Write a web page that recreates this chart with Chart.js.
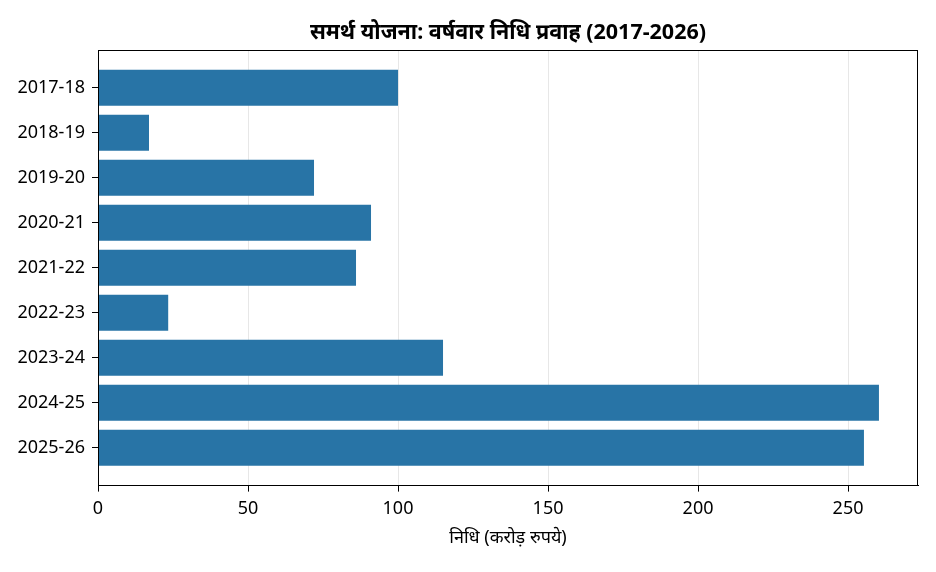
<!DOCTYPE html>
<html>
<head>
<meta charset="utf-8">
<script src="https://cdn.jsdelivr.net/npm/chart.js@4.4.1/dist/chart.umd.min.js"></script>
<style>
  html, body { margin: 0; padding: 0; background: #fff; }
  #wrap { width: 936px; height: 572px; }
</style>
</head>
<body>
<div id="wrap"><canvas id="c" width="936" height="572"></canvas></div>
<script>
const categories = ["2017-18", "2018-19", "2019-20", "2020-21", "2021-22", "2022-23", "2023-24", "2024-25", "2025-26"];
const funds = [100, 17, 72, 91, 86, 23.4, 115, 260.3, 255.3];
const xTicks = [0, 50, 100, 150, 200, 250];
const titleText = "समर्थ योजना: वर्षवार निधि प्रवाह (2017-2026)";
const xLabel = "निधि (करोड़ रुपये)";

const FONT = "'Noto Sans', 'DejaVu Sans', sans-serif";
const xMax = Math.max(...funds) * 1.05;
const yPad = (categories.length - 1 + 0.8) * 0.05 + 0.4;

const framePlugin = {
  id: 'frame',
  afterDraw(chart) {
    const a = chart.chartArea, ctx = chart.ctx;
    ctx.save();
    ctx.strokeStyle = '#000';
    ctx.lineWidth = 1;
    ctx.strokeRect(Math.round(a.left) + 0.5, Math.round(a.top) + 0.5,
                   Math.round(a.right - a.left) - 1, Math.round(a.bottom - a.top) - 1);
    // title centred over the plot area
    ctx.fillStyle = '#000';
    ctx.font = "bold 21.5px " + FONT;
    ctx.textAlign = 'center';
    ctx.textBaseline = 'middle';
    ctx.fillText(titleText, (a.left + a.right) / 2, 33);
    ctx.restore();
  }
};

new Chart(document.getElementById('c'), {
  type: 'bar',
  data: {
    datasets: [{
      data: funds.map((v, i) => ({ x: v, y: i })),
      backgroundColor: '#2874A6',
      borderWidth: 0,
      barPercentage: 0.8,
      categoryPercentage: 1.0
    }]
  },
  options: {
    indexAxis: 'y',
    responsive: false,
    animation: false,
    devicePixelRatio: 1,
    layout: { padding: { left: 0, right: 18, top: 50, bottom: 0 } },
    plugins: {
      legend: { display: false },
      tooltip: { enabled: false },
      title: { display: false }
    },
    scales: {
      x: {
        type: 'linear',
        position: 'bottom',
        min: 0,
        max: xMax,
        z: 1,
        offset: false,
        afterBuildTicks(s) { s.ticks = xTicks.map(v => ({ value: v })); },
        afterFit(s) { s.height = 86.4; s.paddingLeft = 0; s.paddingRight = 0; },
        grid: {
          display: true,
          offset: false,
          drawOnChartArea: true,
          drawTicks: true,
          tickLength: 6,
          color: 'rgba(176,176,176,0.3)',
          tickColor: '#000'
        },
        border: { display: true, color: '#000', width: 1 },
        ticks: {
          color: '#000',
          font: { family: FONT, size: 18 },
          padding: 6
        },
        title: {
          display: true,
          text: xLabel,
          color: '#000',
          font: { family: FONT, size: 18 },
          padding: { top: 0, bottom: 23 }
        }
      },
      y: {
        type: 'linear',
        position: 'left',
        reverse: true,
        offset: false,
        min: -yPad,
        max: categories.length - 1 + yPad,
        afterBuildTicks(s) { s.ticks = categories.map((_, i) => ({ value: i })); },
        afterFit(s) { s.width = 98; s.paddingTop = 0; s.paddingBottom = 0; },
        grid: {
          display: true,
          offset: false,
          drawOnChartArea: false,
          drawTicks: true,
          tickLength: 6,
          color: '#000'
        },
        border: { display: true, color: '#000', width: 1 },
        ticks: {
          color: '#000',
          font: { family: FONT, size: 18 },
          padding: 7,
          callback: (v) => categories[v]
        }
      }
    }
  },
  plugins: [framePlugin]
});
</script>
</body>
</html>
